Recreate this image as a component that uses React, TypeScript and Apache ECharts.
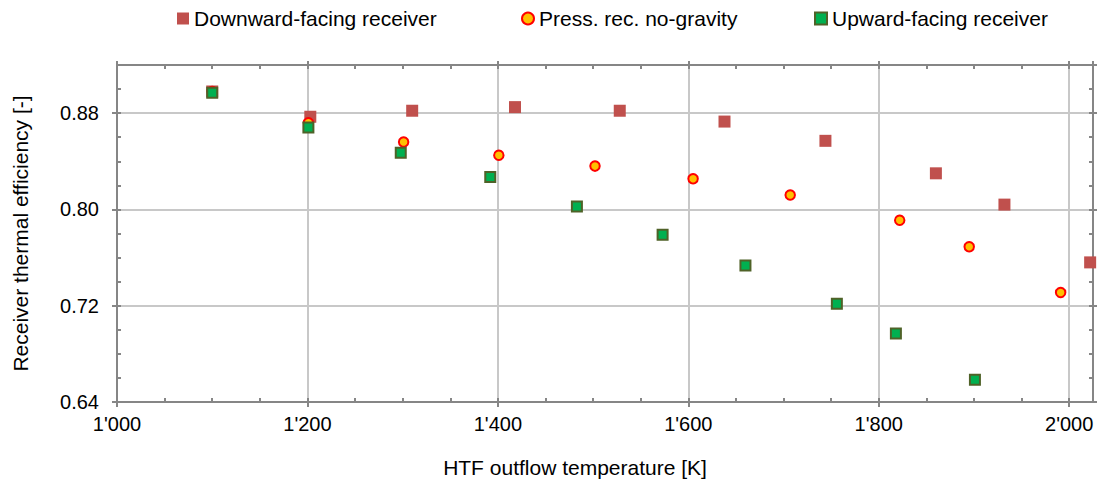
import React, { useEffect, useRef } from "react";
import * as echarts from "echarts";

// ---- data ----
const downX = [1100, 1203, 1310, 1418, 1528, 1638, 1744, 1860, 1932, 2022];
const downY = [0.898, 0.877, 0.882, 0.885, 0.882, 0.873, 0.857, 0.83, 0.804, 0.756];
const pressX = [1100, 1201, 1301, 1401, 1502, 1605, 1707, 1822, 1895, 1991];
const pressY = [0.898, 0.872, 0.856, 0.845, 0.836, 0.8255, 0.812, 0.791, 0.769, 0.731];
const upX = [1100, 1201, 1298, 1392, 1483, 1573, 1660, 1756, 1818, 1901];
const upY = [0.897, 0.868, 0.847, 0.827, 0.8025, 0.779, 0.7535, 0.7217, 0.697, 0.6585];

const seriesNames = ["Downward-facing receiver", "Press. rec. no-gravity", "Upward-facing receiver"];
const xTickValues = [1000, 1200, 1400, 1600, 1800, 2000];
const yTickValues = [0.64, 0.72, 0.8, 0.88];
const xTitle = "HTF outflow temperature [K]";
const yTitle = "Receiver thermal efficiency [-]";

const X_MIN = 1000, X_MAX = 2025, X_MAJOR = 200, X_MINOR = 50;
const Y_MIN = 0.64, Y_MAX = 0.92, Y_MAJOR = 0.08, Y_MINOR = 0.02;

const FONT = "'Liberation Sans', Arial, sans-serif";
const AXIS_COLOR = "#868686";
const GRID_COLOR = "#c8c8c8";

const fmtX = (v: number) => {
  const t = Math.floor(v / 1000);
  const r = Math.round(v % 1000);
  return `${t}'${String(r).padStart(3, "0")}`;
};

const zip = (xs: number[], ys: number[]) => xs.map((x, i) => [x, ys[i]]);

export default function App() {
  const ref = useRef<HTMLDivElement>(null);
  useEffect(() => {
    document.body.style.margin = "0";
    if (!ref.current) return;
    const chart = echarts.init(ref.current, undefined, { renderer: "svg" });
    const tickLine = { color: AXIS_COLOR, width: 2 };
    const hidden = { show: false };
    const xBase = { type: "value", min: X_MIN, max: X_MAX, gridIndex: 0 };
    const yBase = { type: "value", min: Y_MIN, max: Y_MAX, gridIndex: 0 };
    const option: any = {
      animation: false,
      backgroundColor: "#ffffff",
      textStyle: { fontFamily: FONT },
      grid: { left: 117, right: 7, top: 65, bottom: 93, containLabel: false, outerBoundsMode: "none" },
      legend: [
        { data: [seriesNames[0]], left: 177 },
        { data: [seriesNames[1]], left: 521 },
        { data: [seriesNames[2]], left: 814 },
      ].map((l) => ({
        ...l,
        top: 8,
        itemWidth: 12,
        itemHeight: 12,
        itemGap: 0,
        padding: 0,
        textStyle: { fontSize: 21, color: "#000", fontFamily: FONT },
      })),
      xAxis: [
        {
          ...xBase,
          position: "bottom",
          interval: X_MAJOR,
          axisLine: { show: true, onZero: false, lineStyle: tickLine },
          axisTick: { show: true, inside: false, length: 5, lineStyle: tickLine, customValues: xTickValues },
          axisLabel: {
            customValues: xTickValues,
            formatter: (v: number) => fmtX(v),
            fontSize: 20,
            color: "#000",
            fontFamily: FONT,
            margin: 12,
          },
          splitLine: { show: true, lineStyle: { color: GRID_COLOR, width: 2 } },
          name: xTitle,
          nameLocation: "middle",
          nameGap: 55,
          nameTextStyle: { fontSize: 21, color: "#000", fontFamily: FONT, padding: [0, 60, 0, 0] },
        },
        {
          ...xBase,
          position: "bottom",
          interval: X_MINOR,
          axisLine: hidden,
          axisTick: { show: true, inside: true, length: 4, lineStyle: tickLine },
          axisLabel: hidden,
          splitLine: hidden,
        },
        {
          ...xBase,
          position: "top",
          interval: X_MAJOR,
          axisLine: { show: true, onZero: false, lineStyle: tickLine },
          axisTick: { show: true, inside: false, length: 4, lineStyle: tickLine },
          axisLabel: hidden,
          splitLine: hidden,
        },
        {
          ...xBase,
          position: "top",
          interval: X_MINOR,
          axisLine: hidden,
          axisTick: { show: true, inside: true, length: 4, lineStyle: tickLine },
          axisLabel: hidden,
          splitLine: hidden,
        },
      ],
      yAxis: [
        {
          ...yBase,
          position: "left",
          interval: Y_MAJOR,
          axisLine: { show: true, onZero: false, lineStyle: tickLine },
          axisTick: { show: true, inside: false, length: 5, lineStyle: tickLine, customValues: yTickValues },
          axisLabel: {
            customValues: yTickValues,
            formatter: (v: number) => v.toFixed(2),
            fontSize: 20,
            color: "#000",
            fontFamily: FONT,
            margin: 18,
          },
          splitLine: { show: true, lineStyle: { color: GRID_COLOR, width: 2 } },
          name: yTitle,
          nameLocation: "middle",
          nameGap: 86,
          nameTextStyle: { fontSize: 21, color: "#000", fontFamily: FONT },
        },
        {
          ...yBase,
          position: "left",
          interval: Y_MINOR,
          axisLine: hidden,
          axisTick: { show: true, inside: true, length: 4, lineStyle: tickLine },
          axisLabel: hidden,
          splitLine: hidden,
        },
        {
          ...yBase,
          position: "right",
          interval: Y_MAJOR,
          axisLine: { show: true, onZero: false, lineStyle: tickLine },
          axisTick: { show: true, inside: false, length: 4, lineStyle: tickLine },
          axisLabel: hidden,
          splitLine: hidden,
        },
        {
          ...yBase,
          position: "right",
          interval: Y_MINOR,
          axisLine: hidden,
          axisTick: { show: true, inside: true, length: 4, lineStyle: tickLine },
          axisLabel: hidden,
          splitLine: hidden,
        },
      ],
      series: [
        {
          name: seriesNames[0],
          type: "scatter",
          xAxisIndex: 0,
          yAxisIndex: 0,
          symbol: "rect",
          symbolSize: 12,
          itemStyle: { color: "#C0504D", opacity: 1 },
          data: zip(downX, downY),
        },
        {
          name: seriesNames[1],
          type: "scatter",
          xAxisIndex: 0,
          yAxisIndex: 0,
          symbol: "circle",
          symbolSize: 9.5,
          itemStyle: { color: "#FFC000", borderColor: "#FF0000", borderWidth: 2, opacity: 1 },
          data: zip(pressX, pressY),
        },
        {
          name: seriesNames[2],
          type: "scatter",
          xAxisIndex: 0,
          yAxisIndex: 0,
          symbol: "rect",
          symbolSize: 10,
          itemStyle: { color: "#00B050", borderColor: "#4F6228", borderWidth: 2, opacity: 1 },
          data: zip(upX, upY),
        },
      ],
    };
    chart.setOption(option);
    return () => chart.dispose();
  }, []);
  return <div ref={ref} style={{ width: 1100, height: 495 }} />;
}
